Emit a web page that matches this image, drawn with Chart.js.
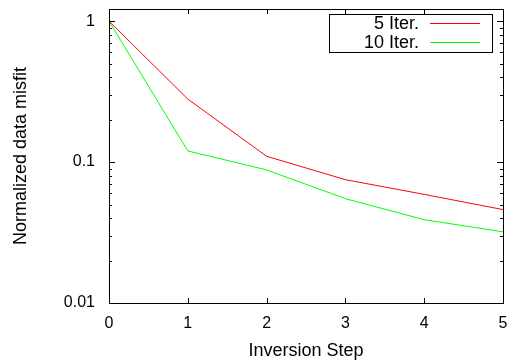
<!DOCTYPE html>
<html>
<head>
<meta charset="utf-8">
<script src="https://cdn.jsdelivr.net/npm/chart.js@4"></script>
<style>
  html, body { margin: 0; padding: 0; background: #fff; }
  #wrap { width: 510px; height: 363px; }
</style>
</head>
<body>
<div id="wrap"><canvas id="misfit" width="510" height="363"></canvas></div>
<script>
// data
const steps = [0, 1, 2, 3, 4, 5];
const iter5 = [1, 0.28, 0.11, 0.075, 0.059, 0.046];
const iter10 = [1, 0.12, 0.088, 0.055, 0.039, 0.032];
const yTicks = [0.01, 0.1, 1];
const xTicks = [0, 1, 2, 3, 4, 5];
const labels = ['5 Iter.', '10 Iter.'];
const colors = ['rgb(255,0,0)', 'rgb(0,255,0)'];

const FONT = "'Liberation Sans', Arial, sans-serif";

function pts(vals) {
  return steps.map((s, i) => ({ x: s, y: vals[i] }));
}

// frame + inward ticks (gnuplot look)
const framePlugin = {
  id: 'frame',
  afterDraw(chart) {
    const c = chart.ctx, a = chart.chartArea;
    const xs = chart.scales.x, ys = chart.scales.y;
    c.save();
    c.strokeStyle = '#000';
    c.lineWidth = 1;
    c.strokeRect(Math.round(a.left) + 0.5, Math.round(a.top) + 0.5,
      Math.round(a.right - a.left), Math.round(a.bottom - a.top));
    c.beginPath();
    // y ticks, major and minor
    for (let d = -2; d <= 0; d++) {
      for (let m = 1; m <= 9; m++) {
        const v = m * Math.pow(10, d);
        if (v < ys.min || v > ys.max) continue;
        const y = Math.round(ys.getPixelForValue(v)) + 0.5;
        const len = m === 1 ? 6 : 3;
        c.moveTo(a.left, y); c.lineTo(a.left + len, y);
        c.moveTo(a.right, y); c.lineTo(a.right - len, y);
      }
    }
    xTicks.forEach(v => {
      const x = Math.round(xs.getPixelForValue(v)) + 0.5;
      c.moveTo(x, a.bottom); c.lineTo(x, a.bottom - 5);
      c.moveTo(x, a.top); c.lineTo(x, a.top + 5);
    });
    c.stroke();

    // legend box, text left of line
    c.strokeRect(329.5, 14.5, 163, 38);
    c.font = '18px ' + FONT;
    c.textAlign = 'right';
    c.textBaseline = 'middle';
    labels.forEach((lab, i) => {
      const y = 23 + i * 19;
      c.fillStyle = '#000';
      c.fillText(lab, 419, y + 1);
    });
    labels.forEach((lab, i) => {
      const y = 23 + i * 19;
      c.beginPath();
      c.strokeStyle = colors[i];
      c.moveTo(430, y + 0.5);
      c.lineTo(480, y + 0.5);
      c.stroke();
    });
    c.restore();
  }
};

new Chart(document.getElementById('misfit'), {
  type: 'line',
  data: {
    datasets: [{
      label: labels[0],
      data: pts(iter5),
      borderColor: colors[0],
      borderWidth: 1,
      pointRadius: 0,
      tension: 0
    }, {
      label: labels[1],
      data: pts(iter10),
      borderColor: colors[1],
      borderWidth: 1,
      pointRadius: 0,
      tension: 0
    }]
  },
  options: {
    responsive: false,
    animation: false,
    layout: { padding: { top: 9, right: 7, left: 0, bottom: 0 } },
    plugins: {
      legend: { display: false },
      tooltip: { enabled: false }
    },
    scales: {
      x: {
        type: 'linear',
        min: 0,
        max: 5,
        afterBuildTicks: s => { s.ticks = xTicks.map(v => ({ value: v })); },
        afterFit: s => { s.height = 60; s.paddingLeft = 0; s.paddingRight = 0; },
        grid: { display: false, drawTicks: false },
        border: { display: false },
        ticks: { color: '#000', padding: 11, font: { family: FONT, size: 16 } },
        title: {
          display: true,
          text: 'Inversion Step',
          color: '#000',
          font: { family: FONT, size: 18 },
          padding: { top: 0, bottom: 1 }
        }
      },
      y: {
        type: 'logarithmic',
        min: 0.01,
        max: 1.22,
        afterBuildTicks: s => { s.ticks = yTicks.map(v => ({ value: v })); },
        afterFit: s => { s.width = 109; s.paddingTop = 0; s.paddingBottom = 0; },
        grid: { display: false, drawTicks: false },
        border: { display: false },
        ticks: {
          color: '#000',
          padding: 14,
          font: { family: FONT, size: 16 },
          callback: v => String(v)
        },
        title: {
          display: true,
          text: 'Normalized data misfit',
          color: '#000',
          font: { family: FONT, size: 18 },
          padding: { top: 10, bottom: 0 }
        }
      }
    }
  },
  plugins: [framePlugin]
});
</script>
</body>
</html>
